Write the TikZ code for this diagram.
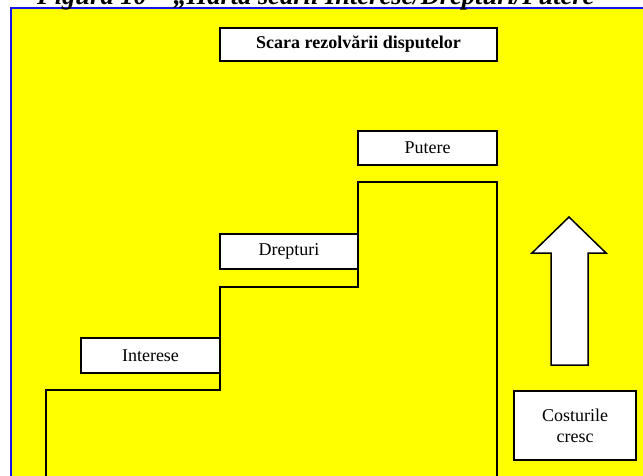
\documentclass[tikz,border=0pt]{standalone}
\usepackage{fontspec}
\setmainfont{Liberation Serif}
\definecolor{bgyellow}{RGB}{255,255,0}
\definecolor{frameblue}{RGB}{20,20,235}
\tikzset{
  labelbox/.style={draw=black, fill=white, line width=1.5pt, inner sep=0pt,
    font=\fontsize{18}{21}\selectfont, align=center},
  stairline/.style={draw=black, line width=1.5pt, line join=miter},
}
\begin{document}
\begin{tikzpicture}[x=1pt, y=-1pt]
  \clip (0,0) rectangle (643,476);
  % panel background with its blue frame on the left and top
  \fill[bgyellow] (11,8) rectangle (660,490);
  \draw[frameblue, line width=2pt] (11,490) -- (11,8) -- (660,8);
  % caption, cut off by the top edge
  \node[anchor=base west, inner sep=0pt,
        font=\fontsize{26.5}{30}\selectfont\bfseries\itshape] (caption) at (37,4.8)
    {Figura 10 – „Harta scării Interese/Drepturi/Putere};
  % staircase outline
  \draw[stairline] (46,490) -- (46,390) -- (220,390) -- (220,287) -- (358,287)
    -- (358,182) -- (497,182) -- (497,490);
  % title and step labels
  \node[labelbox, font=\fontsize{18}{21}\selectfont\bfseries,
        minimum width=277pt, minimum height=33pt] (title) at (358.5,44.5)
    {Scara rezolvării disputelor};
  \node[labelbox, minimum width=139pt, minimum height=34pt] (putere) at (427.5,148) {Putere};
  \node[labelbox, minimum width=138pt, minimum height=35pt] (drepturi) at (289,251.5) {Drepturi};
  \node[labelbox, minimum width=139pt, minimum height=35pt] (interese) at (150.5,355.5) {Interese};
  % rising costs
  \draw[draw=black, fill=white, line width=1.5pt, line join=miter]
    (551,365) -- (551,253) -- (532,253) -- (569,217) -- (606,253) -- (588,253)
    -- (588,365) -- cycle;
  \node[labelbox, minimum width=122pt, minimum height=69pt] (costuri) at (575,425.5)
    {Costurile\\cresc};
\end{tikzpicture}
\end{document}
